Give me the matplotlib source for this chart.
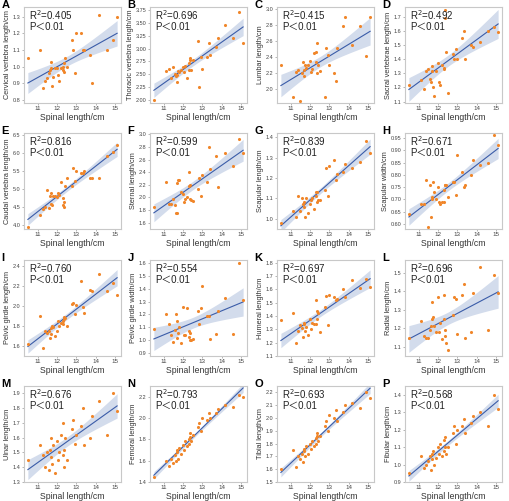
import numpy as np
import matplotlib.pyplot as plt
from matplotlib.ticker import MultipleLocator

plt.rcParams['font.family'] = ['Liberation Sans', 'Noto Sans CJK SC', 'DejaVu Sans']

# spinal length (x) shared by all panels
spinal = [10.5, 11.1, 11.3, 11.4, 11.5, 11.6, 11.65, 11.7, 11.7, 11.75, 11.8, 11.9,
          12.0, 12.05, 12.1, 12.2, 12.3, 12.3, 12.35, 12.35, 12.4, 12.5, 12.75, 12.85,
          12.95, 13.0, 13.25, 13.35, 13.4, 13.7, 13.8, 14.15, 14.6, 14.9, 15.1]

cervical = [1.05, 1.10, 0.87, 0.91, 0.93, 0.96, 0.98, 1.03, 0.99, 0.88, 0.94, 0.99,
            0.99, 0.95, 0.91, 0.99, 1.00, 0.98, 0.97, 1.02, 1.05, 1.00, 1.16, 1.10,
            0.96, 1.20, 1.20, 1.10, 1.10, 1.07, 0.90, 1.31, 1.10, 1.16, 1.30]
thoracic = [2.00, 2.57, 2.60, 2.43, 2.64, 2.51, 2.47, 2.49, 2.36, 2.56, 2.54, 2.58,
            2.64, 2.55, 2.67, 2.44, 2.72, 2.58, 2.81, 2.77, 2.58, 2.78, 3.15, 2.25,
            2.83, 2.60, 2.84, 3.10, 2.87, 3.03, 3.20, 3.45, 3.20, 3.70, 3.10]
lumbar = [2.30, 1.90, 2.22, 2.24, 1.86, 2.20, 2.34, 2.24, 2.17, 2.30, 2.27, 2.31,
          2.36, 2.22, 2.26, 2.45, 2.47, 2.34, 2.21, 2.58, 2.30, 2.23, 1.91, 2.52,
          2.43, 2.30, 2.20, 2.10, 2.52, 2.79, 2.90, 2.56, 2.79, 2.42, 2.90]
sacral = [1.22, 1.25, 1.19, 1.32, 1.33, 1.26, 1.24, 1.35, 1.32, 1.20, 1.14, 1.32,
          1.37, 1.24, 1.22, 1.36, 1.34, 1.33, 1.69, 1.75, 1.45, 1.16, 1.44, 1.40,
          1.47, 1.40, 1.55, 1.60, 1.40, 1.50, 1.49, 1.52, 1.60, 1.63, 1.59]
caudal = [3.95, 4.30, 4.45, 4.52, 4.98, 4.48, 4.80, 4.88, 4.60, 4.55, 4.80, 4.80,
          4.77, 4.88, 4.85, 5.20, 4.75, 4.55, 4.52, 4.65, 5.08, 5.30, 5.10, 5.58,
          5.22, 5.50, 5.45, 5.45, 5.50, 5.30, 5.30, 5.30, 5.92, 6.02, 6.22]
sternal = [1.85, 2.25, 1.90, 1.90, 1.98, 1.88, 1.75, 1.75, 2.23, 2.27, 2.28, 2.08,
           2.06, 1.92, 1.98, 2.00, 2.40, 2.18, 1.98, 2.20, 1.96, 1.95, 2.14, 2.30,
           2.02, 2.35, 2.25, 2.80, 2.45, 2.65, 2.17, 2.70, 2.50, 2.92, 2.70]
scap_len = [0.98, 1.04, 1.01, 1.11, 1.04, 1.10, 1.07, 1.06, 1.08, 1.01, 1.10, 1.03,
            1.07, 1.09, 1.10, 1.05, 1.13, 1.11, 1.08, 1.13, 1.09, 1.09, 1.14, 1.25,
            1.11, 1.26, 1.29, 1.19, 1.22, 1.23, 1.27, 1.25, 1.28, 1.38, 1.32]
scap_wid = [0.64, 0.68, 0.68, 0.78, 0.59, 0.76, 0.63, 0.71, 0.70, 0.77, 0.73, 0.70,
            0.75, 0.69, 0.68, 0.69, 0.74, 0.69, 0.76, 0.76, 0.76, 0.71, 0.77, 0.77,
            0.72, 0.88, 0.81, 0.75, 0.76, 0.80, 0.86, 0.84, 0.85, 0.96, 0.92]
pelvic_len = [1.62, 1.90, 1.58, 1.75, 1.73, 1.75, 1.68, 1.72, 1.78, 1.80, 1.79, 1.70,
              1.75, 1.85, 1.80, 1.83, 1.85, 1.82, 1.87, 1.89, 1.88, 1.80, 2.02, 2.03,
              1.92, 2.01, 2.25, 1.99, 1.93, 2.16, 2.15, 2.32, 2.15, 2.23, 2.11]
pelvic_wid = [1.09, 1.20, 1.13, 1.04, 0.99, 1.08, 1.20, 1.15, 1.02, 1.06, 1.10, 0.98,
              1.26, 1.04, 1.04, 1.25, 1.07, 1.03, 1.06, 1.00, 1.00, 1.01, 1.23, 1.13,
              1.25, 1.42, 1.19, 1.19, 1.01, 1.05, 1.23, 1.33, 1.05, 1.60, 1.31]
humeral = [1.37, 1.42, 1.20, 1.29, 1.33, 1.31, 1.24, 1.35, 1.34, 1.29, 1.32, 1.26,
           1.38, 1.30, 1.35, 1.34, 1.34, 1.52, 1.38, 1.44, 1.42, 1.28, 1.47, 1.55,
           1.33, 1.56, 1.54, 1.52, 1.53, 1.60, 1.54, 1.67, 1.61, 1.68, 1.62]
radial = [1.15, 1.24, 1.16, 1.15, 1.15, 1.19, 1.21, 1.34, 1.25, 1.26, 1.21, 1.18,
          1.37, 1.18, 1.23, 1.14, 1.38, 1.25, 1.19, 1.16, 1.12, 1.08, 1.27, 1.37,
          1.36, 1.17, 1.38, 1.44, 1.15, 1.18, 1.39, 1.53, 1.19, 1.49, 1.39]
ulnar = [1.45, 1.55, 1.48, 1.40, 1.50, 1.38, 1.52, 1.60, 1.47, 1.42, 1.55, 1.36,
         1.58, 1.45, 1.50, 1.62, 1.70, 1.48, 1.52, 1.40, 1.60, 1.45, 1.66, 1.72,
         1.56, 1.62, 1.68, 1.80, 1.55, 1.60, 1.75, 1.85, 1.62, 1.90, 1.78]
femoral = [1.45, 1.60, 1.55, 1.62, 1.58, 1.65, 1.60, 1.68, 1.70, 1.62, 1.72, 1.66,
           1.75, 1.70, 1.78, 1.74, 1.80, 1.76, 1.82, 1.86, 1.78, 1.84, 1.92, 1.95,
           1.88, 2.00, 1.98, 2.05, 2.00, 2.05, 2.08, 2.12, 2.10, 2.22, 2.20]
tibial = [1.60, 1.75, 1.62, 1.70, 1.68, 1.72, 1.66, 1.76, 1.74, 1.70, 1.78, 1.72,
          1.80, 1.76, 1.82, 1.78, 1.84, 1.80, 1.86, 1.88, 1.82, 1.86, 1.94, 1.98,
          1.90, 2.02, 2.00, 2.06, 1.98, 2.05, 2.10, 2.12, 2.08, 2.20, 2.16]
fibular = [0.95, 1.05, 0.98, 1.00, 1.02, 1.05, 0.97, 1.06, 1.03, 1.08, 1.00, 1.04,
           1.10, 1.06, 1.12, 1.05, 1.14, 1.08, 1.10, 1.16, 1.06, 1.10, 1.18, 1.22,
           1.12, 1.20, 1.22, 1.26, 1.18, 1.24, 1.28, 1.30, 1.22, 1.40, 1.32]

letters = list('ABCDEFGHIJKLMNOP')
ylabels = ['Cervical vertebra length/cm', 'Thoracic vertebra length/cm', 'Lumbar length/cm',
           'Sacral vertebrae length/cm', 'Caudal vertebra length/cm', 'Sternal length/cm',
           'Scapular length/cm', 'Scapular width/cm', 'Pelvic girdle length/cm',
           'Pelvic girdle width/cm', 'Humeral length/cm', 'Radial length/cm',
           'Ulnar length/cm', 'Femoral length/cm', 'Tibial length/cm', 'Fibular length/cm']
r2 = ['0.405', '0.696', '0.415', '0.492', '0.816', '0.599', '0.839', '0.671',
      '0.760', '0.554', '0.697', '0.696', '0.676', '0.793', '0.693', '0.568']
series = [cervical, thoracic, lumbar, sacral, caudal, sternal, scap_len, scap_wid,
          pelvic_len, pelvic_wid, humeral, radial, ulnar, femoral, tibial, fibular]
ylims = [(0.78, 1.36), (1.95, 3.8), (1.83, 3.03), (1.09, 1.77), (3.9, 6.55), (1.5, 3.02),
         (0.95, 1.42), (0.58, 0.97), (1.5, 2.46), (0.88, 1.62), (1.1, 1.82), (1.05, 1.57),
         (1.3, 1.95), (1.4, 2.3), (1.5, 2.25), (0.9, 1.45)]
ysteps = [0.1, 0.25, 0.2, 0.1, 0.5, 0.2, 0.1, 0.05, 0.2, 0.1, 0.1, 0.1, 0.1, 0.2, 0.1, 0.1]


def fit_band(x, y):
    x = np.asarray(x)
    y = np.asarray(y)
    n = len(x)
    b, a = np.polyfit(x, y, 1)
    xs = np.linspace(x.min(), x.max(), 100)
    yhat = a + b * xs
    s = np.sqrt(np.sum((y - (a + b * x)) ** 2) / (n - 2))
    se = s * np.sqrt(1 / n + (xs - x.mean()) ** 2 / np.sum((x - x.mean()) ** 2))
    return xs, yhat, yhat - 2.035 * se, yhat + 2.035 * se


fig = plt.figure(figsize=(5.10, 5.01), dpi=100)
lefts = [24, 150, 277, 405]
tops = [7, 133, 260, 386]
W, H = 97, 96

for i in range(16):
    r, c = divmod(i, 4)
    ax = fig.add_axes([lefts[c] / 510, 1 - (tops[r] + H) / 501, W / 510, H / 501])
    y = series[i]
    xs, yhat, lo, hi = fit_band(spinal, y)
    ax.fill_between(xs, lo, hi, color='#d3dcec', lw=0)
    ax.plot(xs, yhat, color='#3a5ca8', lw=0.8)
    ax.scatter(spinal, y, s=5, color='#f0862a', lw=0, zorder=3)
    ax.set_xlim(10.3, 15.3)
    ax.set_ylim(*ylims[i])
    ax.xaxis.set_major_locator(MultipleLocator(1))
    ax.yaxis.set_major_locator(MultipleLocator(ysteps[i]))
    for sp in ax.spines.values():
        sp.set_color('#c8c8c8')
        sp.set_linewidth(0.8)
    ax.tick_params(axis='x', labelsize=4.5, length=1.5, width=0.5, color='#999999',
                   labelcolor='#444444', pad=1)
    ax.tick_params(axis='y', labelsize=4, length=1.5, width=0.5, color='#999999',
                   labelcolor='#444444', pad=1)
    ax.set_xlabel('Spinal length/cm', fontsize=6.2, labelpad=1, color='#333333')
    ax.set_ylabel(ylabels[i], fontsize=5.3, labelpad=1, color='#333333')
    ax.text(0.05, 0.92, 'R$^2$=' + r2[i], transform=ax.transAxes, fontsize=7,
            va='center', color='#222222')
    ax.text(0.05, 0.79, 'P＜0.01', transform=ax.transAxes, fontsize=7,
            va='center', color='#222222')
    ax.text(-0.23, 1.07, letters[i], transform=ax.transAxes, fontsize=8,
            fontweight='bold', va='top', ha='left')

fig.savefig('out.png', dpi=100)
